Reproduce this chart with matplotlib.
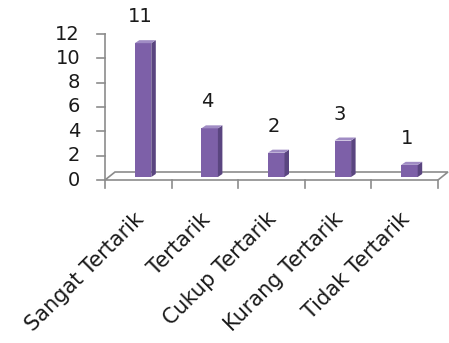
import matplotlib
matplotlib.use("Agg")
import matplotlib.pyplot as plt
from matplotlib.patches import Polygon

categories = ["Sangat Tertarik", "Tertarik", "Cukup Tertarik", "Kurang Tertarik", "Tidak Tertarik"]
values = [11, 4, 2, 3, 1]
yticks = [0, 2, 4, 6, 8, 10, 12]

W, H = 449, 343
fig = plt.figure(figsize=(W / 100, H / 100), dpi=100)
# axes box in pixels: x 105..438, y 34..180 (from top)
L, R, T, B = 105, 438, 34, 180
ax = fig.add_axes([L / W, (H - B) / H, (R - L) / W, (B - T) / H])
ax.set_xlim(0, len(categories))
ax.set_ylim(0, 12)
ax.axis("off")

px = (R - L) / len(categories)   # px per x unit
py = (B - T) / 12.0               # px per y unit
def dx(p): return p / px
def dy(p): return p / py

font = ["DejaVu Sans"]
fs = 14
gray = "#8c8c8c"
txt = "#1a1a1a"
front_c = "#7d60a8"
side_c = "#5a4580"
top_c = "#a08cc4"

# floor
floor = Polygon([(0, 0), (5, 0), (5 + dx(10), dy(8)), (dx(10), dy(8))],
                closed=True, facecolor="white", edgecolor=gray, lw=1.2, clip_on=False, zorder=1)
ax.add_patch(floor)
# y axis
ax.plot([0, 0], [0, 12], color=gray, lw=1.2, clip_on=False, zorder=2)
for t in yticks:
    ax.plot([-dx(8), 0], [t, t], color=gray, lw=1.2, clip_on=False, zorder=2)
    ax.text(-dx(25), t, str(t), ha="right", va="center", fontsize=fs,
            family=font, color=txt)
# x ticks
for i in range(len(categories) + 1):
    ax.plot([i, i], [0, -dy(8)], color=gray, lw=1.2, clip_on=False, zorder=2)

# bars
for i, v in enumerate(values):
    c = i + 0.5
    x0 = c - dx(3.5)
    x1 = c + dx(13)
    y0 = dy(3)
    y1 = y0 + v
    sx, sy = dx(4.5), dy(3)
    ax.add_patch(Polygon([(x0, y0), (x1, y0), (x1, y1), (x0, y1)], closed=True,
                         facecolor=front_c, edgecolor="none", clip_on=False, zorder=3))
    ax.add_patch(Polygon([(x1, y0), (x1 + sx, y0 + sy), (x1 + sx, y1 + sy), (x1, y1)], closed=True,
                         facecolor=side_c, edgecolor="none", clip_on=False, zorder=3))
    ax.add_patch(Polygon([(x0, y1), (x1, y1), (x1 + sx, y1 + sy), (x0 + sx, y1 + sy)], closed=True,
                         facecolor=top_c, edgecolor="none", clip_on=False, zorder=3))
    ax.text(c + dx(2), y1 + dy(17), str(v), ha="center", va="bottom", fontsize=fs,
            family=font, color=txt)

# category labels
for i, name in enumerate(categories):
    c = i + 0.5
    ax.text(c - dx(5), -dy(29), name, ha="right", va="top", rotation=45,
            rotation_mode="anchor", fontsize=15, family=font, color=txt)

fig.savefig("out.png", dpi=100, facecolor="white")
